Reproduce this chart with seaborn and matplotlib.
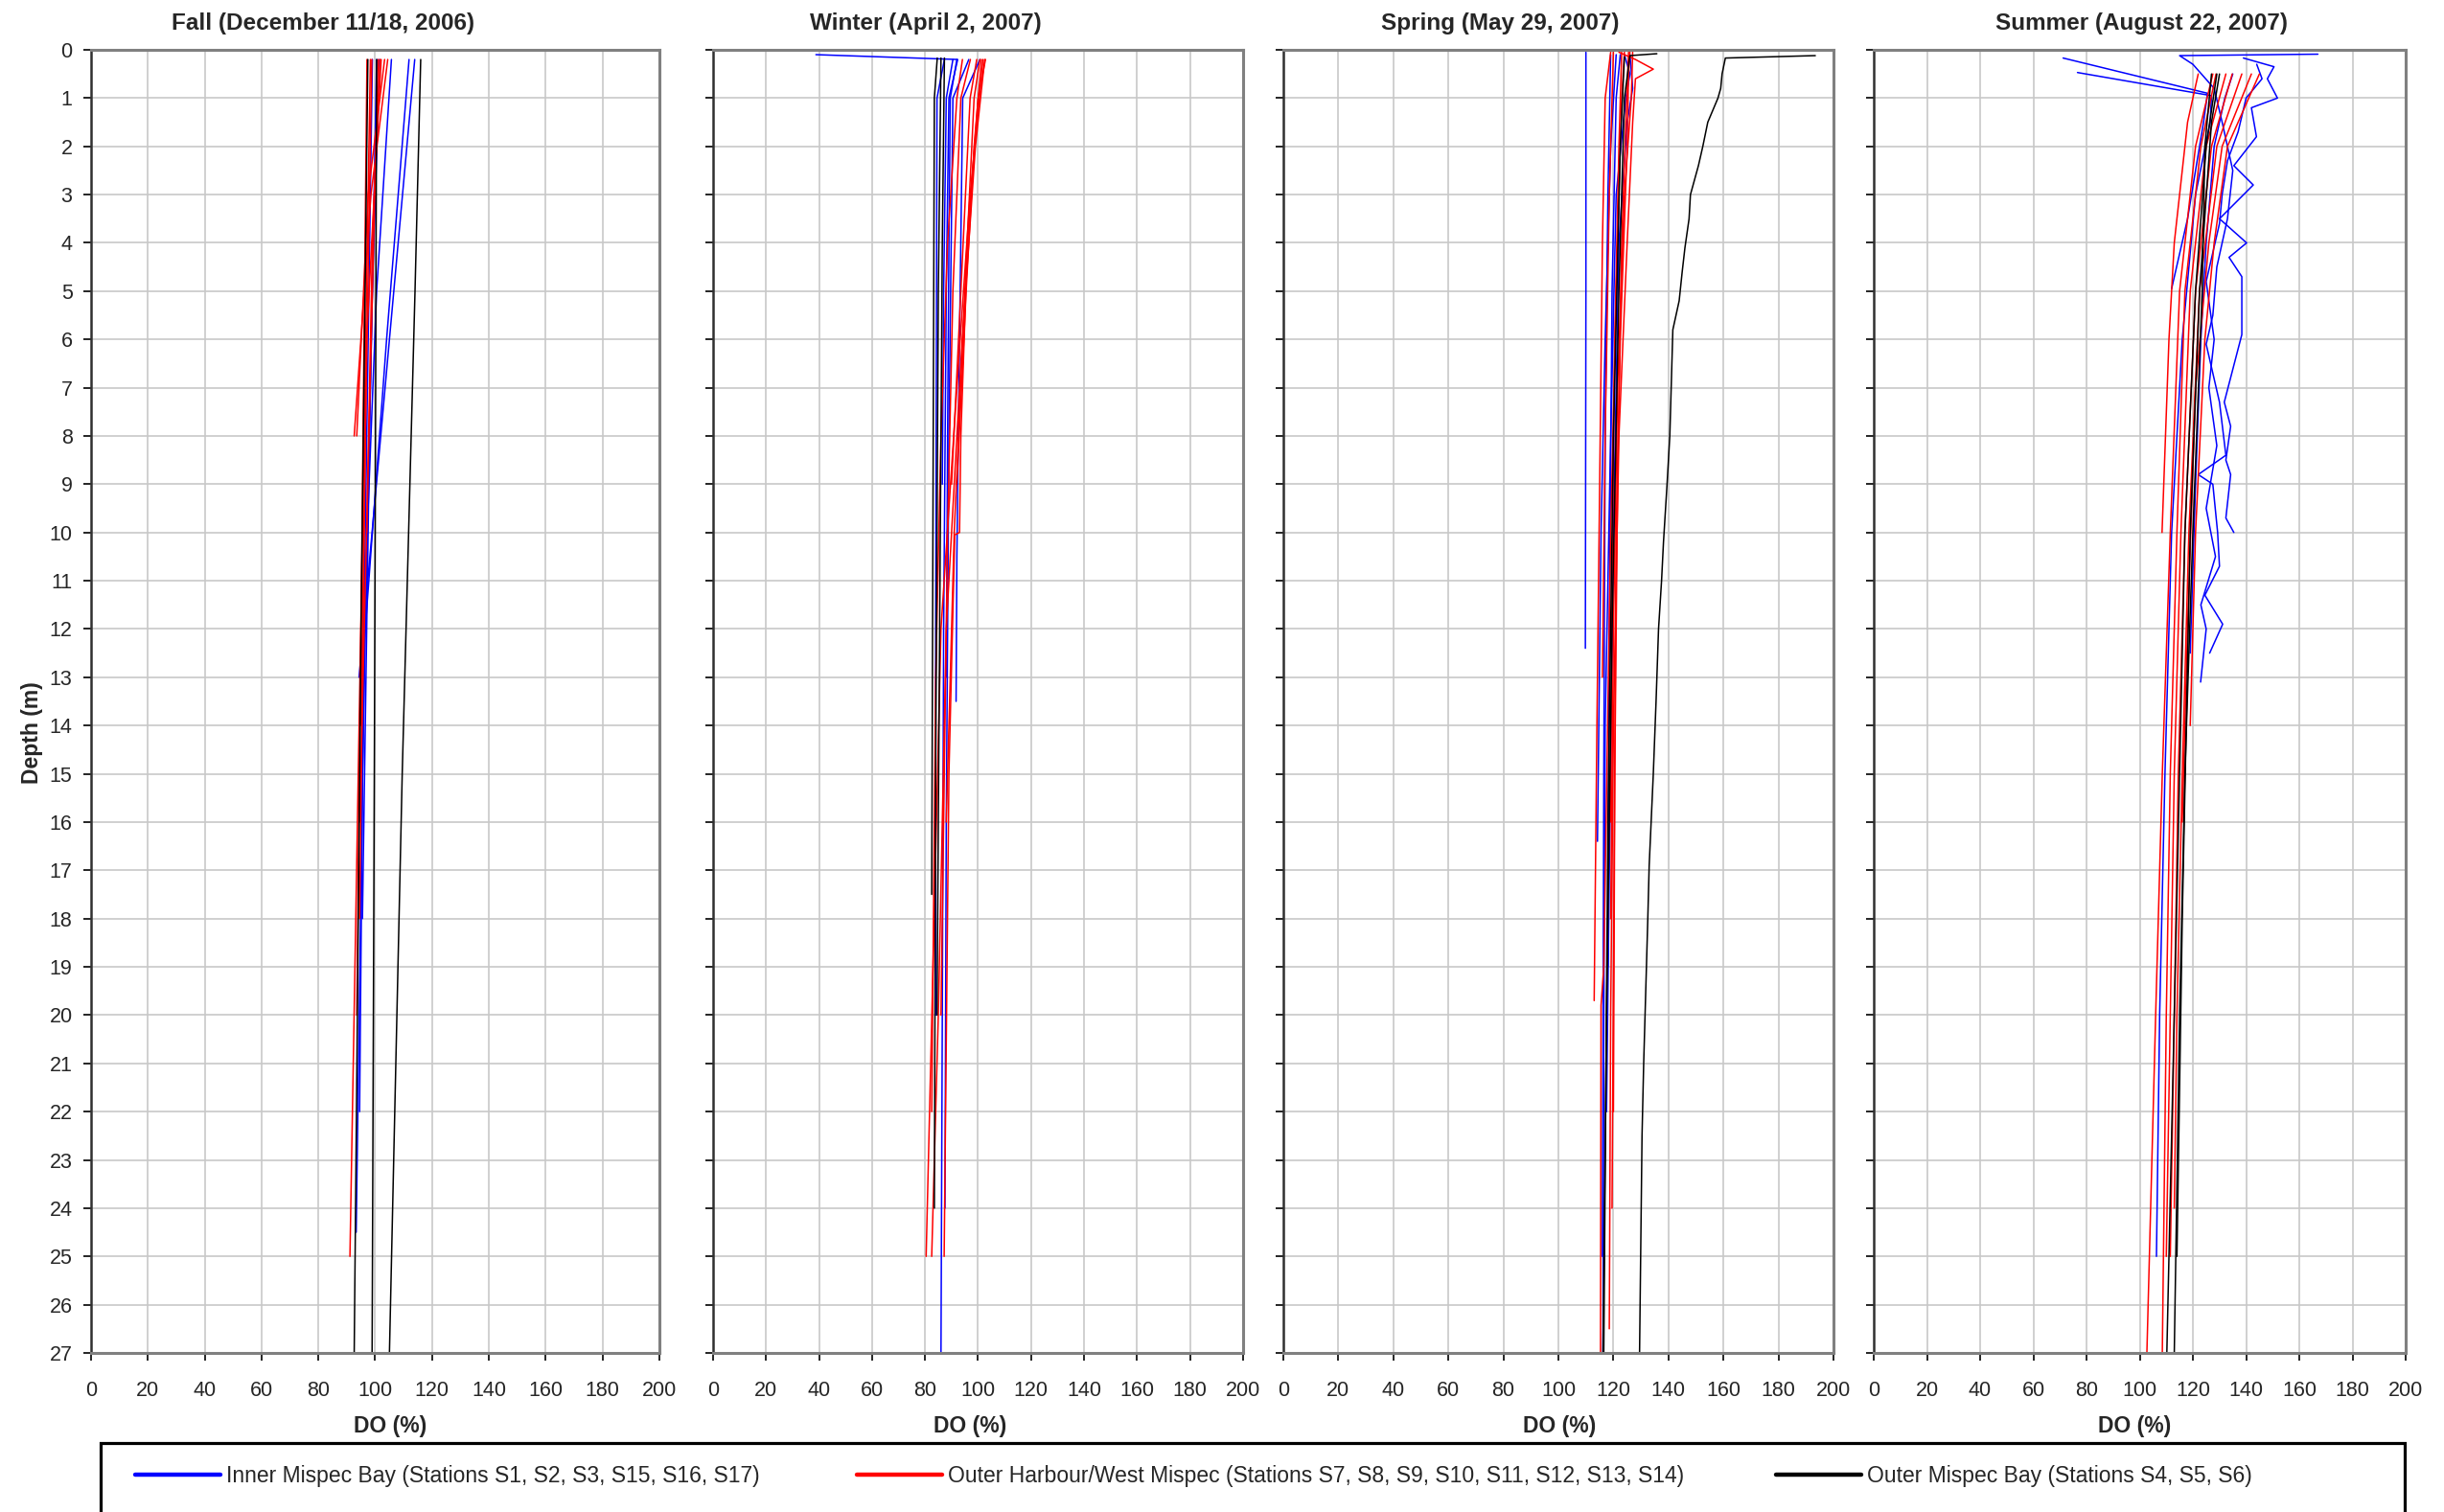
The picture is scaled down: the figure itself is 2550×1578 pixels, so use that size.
import numpy as np
import pandas as pd
import matplotlib
matplotlib.use("Agg")
import matplotlib.pyplot as plt
import seaborn as sns
from matplotlib.lines import Line2D
from matplotlib.patches import Rectangle

# ---------------- text / categories ----------------
SEASON_TITLES = ["Fall (December 11/18, 2006)", "Winter (April 2, 2007)",
                 "Spring (May 29, 2007)", "Summer (August 22, 2007)"]
GROUPS = ["inner", "harbour", "outer"]
GROUP_LABELS = ["Inner Mispec Bay (Stations S1, S2, S3, S15, S16, S17)",
                "Outer Harbour/West Mispec (Stations S7, S8, S9, S10, S11, S12, S13, S14)",
                "Outer Mispec Bay (Stations S4, S5, S6)"]
GROUP_COLORS = ["#0000FF", "#FF0000", "#000000"]
X_TICKS = list(range(0, 201, 20))
Y_TICKS = list(range(0, 28))
X_LABEL = "DO (%)"
Y_LABEL = "Depth (m)"

# ---------------- profiles: (depth m, DO %) ----------------
FALL_INNER = [
    [(0.2, 113.9), (6, 105), (13, 94.3)],
    [(0.2, 111.9), (6, 104), (12, 96.5)],
    [(0.2, 105.7), (5, 100.5), (11, 96.5), (24.5, 93.3)],
    [(0.2, 100.5), (8, 98), (18, 95.5)],
    [(0.2, 99.0), (12, 96), (22, 94.5)],
    [(0.2, 101.5), (5, 99), (15, 95.5)],
]
FALL_HARBOUR = [
    [(0.2, 104.4), (3, 98.5), (8, 92.6)],
    [(0.2, 103.3), (3, 97.5), (8, 93.5)],
    [(0.2, 98.3), (10, 95.5), (25, 91.1)],
    [(0.2, 101.0), (16, 94.5)],
    [(0.2, 97.1), (12, 95), (20, 93.5)],
    [(0.2, 102.1), (6, 97), (14, 95)],
    [(0.2, 101.6), (4, 99), (10, 97)],
    [(0.2, 98.8), (8, 96.5), (18, 94.5)],
]
FALL_OUTER = [
    [(0.2, 116.0), (5, 114), (15, 109.5), (27, 105.0)],
    [(0.2, 100.5), (10, 100), (27, 98.9)],
    [(0.2, 97.4), (12, 95), (27, 92.6)],
]

WINTER_INNER = [
    [(0.1, 38.8), (0.2, 92.3), (1, 89), (5, 88), (12, 87), (20, 86.5), (27, 86)],
    [(0.2, 100.7), (1, 94.2), (6, 93), (10.5, 92), (13.5, 91.7)],
    [(0.2, 96.5), (1, 90.5), (8, 89), (16, 88), (24, 87.5)],
    [(0.2, 90.5), (1, 88), (5, 87), (9, 86.5)],
    [(0.2, 87.3), (1, 84.5), (12, 84), (20, 84)],
    [(0.2, 92.0), (1, 89.5), (4, 89), (8, 88.5), (13, 88)],
]
WINTER_HARBOUR = [
    [(0.2, 102.8), (1, 100), (4, 96), (8, 93.5), (10, 93), (10.05, 91.2), (15, 89), (25, 87.2)],
    [(0.2, 102.5), (2, 99), (6, 94), (12, 88), (20, 85), (25, 82.5)],
    [(0.2, 101.9), (3, 97), (7, 92), (12, 86), (25, 80.4)],
    [(0.2, 101.3), (2, 98.5), (5, 95.5), (9, 92)],
    [(0.2, 100.7), (1, 98.5), (5, 95), (10, 91), (16, 88)],
    [(0.2, 99.5), (1, 97), (5, 93.5), (9, 90)],
    [(0.2, 97.1), (1, 93.5), (5, 90.5), (10, 88.5), (20, 86)],
    [(0.2, 94.1), (1, 92), (4, 88.5), (8, 86), (13, 84), (22, 82.5)],
]
WINTER_OUTER = [
    [(0.17, 84.6), (1, 83.5), (17.5, 82.5)],
    [(0.17, 86.0), (5, 85), (15, 84), (24, 83.5)],
    [(0.17, 87.3), (4, 86.5), (12, 85.5), (20, 84.5)],
]

SPRING_INNER = [
    [(0.05, 110), (5, 110), (12.4, 109.8)],
    [(0.1, 124), (0.5, 126), (1, 124.5), (3, 121), (8, 119), (14, 117), (20, 116.5), (27, 116.2)],
    [(0.1, 121), (2, 119), (6, 117), (10, 115.5), (16.4, 114.2)],
    [(0.1, 126), (0.8, 127), (1.5, 125), (4, 122), (10, 120), (17, 118.5), (22, 117.5)],
    [(0.1, 119), (3, 118), (8, 117), (15, 116.5), (25, 116)],
    [(0.1, 122.5), (1, 121), (5, 119.5), (12, 118.5), (19, 118)],
]
SPRING_HARBOUR = [
    [(0.05, 122), (0.2, 128), (0.4, 134.5), (0.6, 128), (1.5, 127), (4, 125), (8, 122),
     (14, 120), (20, 119), (26.5, 118.5)],
    [(0.05, 119), (1, 117), (4, 116), (9, 115), (14, 114), (19.7, 113)],
    [(0.05, 124), (1, 123), (5, 121), (10, 119), (19, 116.5), (19.8, 115.5), (27, 115.3)],
    [(0.05, 127), (1, 126.5), (3, 124), (7, 121.5), (12, 120), (18, 119)],
    [(0.05, 123), (2, 122), (6, 120.5), (11, 119.5), (16, 119)],
    [(0.05, 125.5), (1.5, 124.5), (4, 123), (9, 121.5), (15, 120.5), (22, 120)],
    [(0.05, 120), (3, 118.5), (8, 117), (13, 116)],
    [(0.05, 126), (0.5, 125.5), (2, 125), (6, 122.5), (10, 121), (24, 119.5)],
]
SPRING_OUTER = [
    [(0.12, 193.4), (0.17, 160.7), (0.5, 159.5), (0.8, 159), (1.0, 158), (1.5, 154.3),
     (2.0, 152.5), (2.4, 150.9), (3.0, 148), (3.5, 147.5), (4.1, 146), (4.6, 145),
     (5.2, 143.9), (5.8, 141.6), (7.0, 141), (8.0, 140.5), (9.0, 139.5), (10.2, 138.2),
     (11.0, 137.5), (12.0, 136.4), (13.5, 135.5), (15.0, 134.5), (16.9, 133),
     (18.0, 132.5), (19.8, 131.6), (21.0, 131), (22.5, 130.4), (24.5, 130), (27.0, 129.5)],
    [(0.08, 135.8), (0.12, 126), (1, 124), (5, 122), (12, 119.5), (20, 117.5), (27, 116.2)],
    [(0.15, 124), (2, 122.5), (8, 120), (16, 118), (27, 116.5)],
]

SUMMER_INNER = [
    [(0.17, 71.2), (0.9, 125.5), (1.5, 124), (2.5, 121), (3.5, 118), (4.95, 112)],
    [(0.47, 76.6), (0.95, 127), (1.5, 126.5), (3, 121), (6, 116), (10, 112), (15, 109.5),
     (20, 107.5), (25, 106.3)],
    [(0.09, 167), (0.12, 115), (0.3, 120), (0.8, 128), (1.5, 131), (2.5, 135), (3.5, 133),
     (4.5, 129), (5.5, 127.5), (6.1, 125), (7.3, 130), (8.4, 132.4), (8.8, 122), (9.0, 127.5),
     (10, 129.3), (10.7, 130), (11.3, 124.5), (11.9, 131.2), (12.5, 126.3)],
    [(0.17, 139), (0.35, 150.5), (0.6, 148), (1.0, 151.8), (1.2, 142), (1.8, 143.9),
     (2.4, 135.4), (2.8, 142.7), (3.5, 130), (4.0, 140.2), (4.3, 133.6), (4.7, 138.4),
     (5.9, 138.4), (7.3, 131.8), (7.8, 134.2), (8.5, 132.4), (8.8, 134.2), (9.7, 132.4),
     (10.0, 135.4)],
    [(0.3, 144), (0.6, 146), (1, 140), (1.7, 137), (2.3, 133), (3, 131), (3.6, 130),
     (4.8, 125), (6, 128), (7, 126), (8.2, 129), (9.5, 125), (10.5, 128.5), (11.5, 123),
     (12, 125), (13.1, 122.9)],
    [(0.5, 135), (1, 132), (2, 128), (4, 125), (6, 123), (9, 121), (12.5, 119)],
]
SUMMER_HARBOUR = [
    [(0.5, 122), (1.5, 118), (2.5, 116), (4, 113), (6, 111), (10, 108.4)],
    [(0.5, 127.5), (2, 121), (5, 115), (10, 111.5), (15, 108.5), (20, 106), (27, 102.7)],
    [(0.5, 128.7), (2, 123), (5, 117), (10, 114), (15, 111.5), (20, 110), (27, 108.5)],
    [(0.5, 132.4), (2, 125), (5, 119), (10, 115.5), (15, 113), (20, 111.5), (25, 110)],
    [(0.5, 134.8), (2, 127), (5, 121), (10, 117), (15, 114.5), (20, 113), (25, 111.5)],
    [(0.5, 138.4), (2, 129), (5, 122.5), (10, 118.5), (15, 116), (20, 114), (24, 113)],
    [(0.5, 142), (2, 131), (4, 126), (7, 121), (12, 118), (16, 116)],
    [(0.5, 145), (2, 133), (4, 128), (6, 124.5), (10, 121), (14, 119)],
]
SUMMER_OUTER = [
    [(0.5, 129), (2, 125), (5, 121), (10, 117), (15, 115), (20, 113), (27, 110.2)],
    [(0.5, 127), (2, 124.5), (5, 123.5), (10, 120), (15, 117), (20, 115), (27, 113)],
    [(0.5, 130), (1.5, 127), (5, 122.5), (10, 119), (18, 116), (25, 114)],
]

SEASON_DATA = [
    (FALL_INNER, FALL_HARBOUR, FALL_OUTER),
    (WINTER_INNER, WINTER_HARBOUR, WINTER_OUTER),
    (SPRING_INNER, SPRING_HARBOUR, SPRING_OUTER),
    (SUMMER_INNER, SUMMER_HARBOUR, SUMMER_OUTER),
]

# ---------------- layout (figure fractions) ----------------
W, H = 2550, 1578
PANEL_PX = [(95, 688), (744, 1297), (1339, 1913), (1955, 2510)]
TOP_PX, BOT_PX = 52, 1412
TITLE_X = [0.408, 0.401, 0.394, 0.503]
XLABEL_X = [0.526, 0.484, 0.502, 0.49]

sns.set_theme(style="white")
plt.rcParams["font.family"] = ["Liberation Sans", "DejaVu Sans"]

fig = plt.figure(figsize=(W / 100, H / 100), dpi=100)
fig.patch.set_facecolor("white")

for s, (title, groups) in enumerate(zip(SEASON_TITLES, SEASON_DATA)):
    rows = []
    for g, profiles in zip(GROUPS, groups):
        for i, prof in enumerate(profiles):
            for d, v in prof:
                rows.append({"group": g, "station": f"{g}{i}", "depth": d, "do": v})
    df = pd.DataFrame(rows)

    x0, x1 = PANEL_PX[s]
    ax = fig.add_axes([x0 / W, 1 - BOT_PX / H, (x1 - x0) / W, (BOT_PX - TOP_PX) / H])
    sns.lineplot(data=df, x="do", y="depth", hue="group", hue_order=GROUPS,
                 palette=GROUP_COLORS, units="station", estimator=None, sort=False,
                 legend=False, linewidth=1.1, ax=ax)

    ax.set_xlim(0, 200)
    ax.set_ylim(27, 0)
    ax.set_xticks(X_TICKS)
    ax.set_yticks(Y_TICKS)
    ax.grid(True, color="#c8c8c8", linewidth=1.2)
    ax.set_axisbelow(True)
    for side in ["top", "right", "bottom"]:
        ax.spines[side].set_color("#808080")
        ax.spines[side].set_linewidth(2.2)
    ax.spines["left"].set_color("#303030")
    ax.spines["left"].set_linewidth(1.8)
    ax.tick_params(axis="y", direction="out", left=True, length=6, width=1.2,
                   color="black", pad=8, labelsize=15.5, labelleft=(s == 0))
    ax.tick_params(axis="x", direction="out", bottom=True, length=6, width=1.2,
                   color="black", pad=15, labelsize=15.5)

    ax.set_title(title, x=TITLE_X[s], y=1.0 + 27 / (BOT_PX - TOP_PX), pad=0,
                 va="center", fontsize=17.5, fontweight="bold")
    ax.set_xlabel(X_LABEL, fontsize=16.5, fontweight="bold")
    ax.xaxis.set_label_coords(XLABEL_X[s], -76 / (BOT_PX - TOP_PX))
    ax.xaxis.label.set_va("center")
    if s == 0:
        ax.set_ylabel(Y_LABEL, fontsize=16.5, fontweight="bold")
        ax.yaxis.set_label_coords((33 - x0) / (x1 - x0), 0.476)
        ax.yaxis.label.set_va("center")
    else:
        ax.set_ylabel("")

# ---------------- legend ----------------
fig.add_artist(Rectangle((105 / W, -0.1), (2509 - 105) / W, 0.1 + (1 - 1506 / H),
                         transform=fig.transFigure, fill=False, edgecolor="black",
                         linewidth=2.3, clip_on=False))
leg_fs = 16.5
em_px = leg_fs * 100 / 72
for color, label, xpx in zip(GROUP_COLORS, GROUP_LABELS, [141, 894, 1853]):
    h = Line2D([], [], color=color, linewidth=3.2)
    fig.legend([h], [label], loc="center left", bbox_to_anchor=(xpx / W, 1 - 1541 / H),
               frameon=False, borderpad=0, borderaxespad=0,
               handlelength=89 / em_px, handletextpad=6 / em_px, fontsize=leg_fs)

fig.savefig("out.png", dpi=100, facecolor="white")
